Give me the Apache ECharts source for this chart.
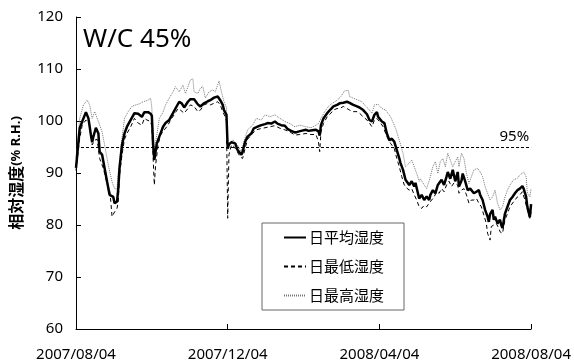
<!DOCTYPE html>
<html>
<head>
<meta charset="utf-8">
<script src="https://cdn.jsdelivr.net/npm/echarts@6/dist/echarts.min.js"></script>
<style>
  html, body { margin: 0; padding: 0; background: #fff; }
  #chart { width: 574px; height: 363px; }
</style>
</head>
<body>
<div id="chart"></div>
<script>
// x values are days elapsed since 2007/08/04
const dateTicks = ['2007/08/04', '2007/12/04', '2008/04/04', '2008/08/04'];
const dayStep = 122;
const thresholdLevel = 95;
const seriesNames = ['日平均湿度', '日最低湿度', '日最高湿度'];

// daily mean relative humidity [day, %RH]
const avgHumidity = [[0,91.0],[3,98.6],[5,99.9],[8,101.7],[10,100.5],[12,97.3],[13,95.9],[14,97.0],[16,98.7],[18,97.6],[19,94.1],[21,93.5],[23,90.9],[25,88.3],[27,85.8],[30,85.4],[31,84.2],[33,84.5],[34,87.0],[35,90.9],[37,95.4],[39,97.6],[41,98.9],[44,100.2],[47,101.5],[50,101.4],[53,100.8],[55,101.7],[58,101.7],[60,101.4],[61,101.0],[62,95.5],[63,92.5],[65,95.7],[67,97.0],[70,98.9],[72,99.6],[75,100.2],[78,101.5],[80,102.4],[83,103.7],[85,103.4],[87,102.6],[90,103.7],[92,104.2],[95,104.2],[98,103.2],[100,102.8],[103,103.4],[106,103.8],[108,104.0],[111,104.5],[114,104.7],[116,104.0],[118,103.1],[119,102.1],[121,101.2],[122,94.7],[123,95.5],[125,95.9],[128,95.7],[130,94.4],[133,93.5],[134,94.1],[136,96.0],[138,97.0],[141,97.6],[143,98.6],[146,98.9],[149,99.2],[152,99.4],[154,99.6],[157,99.5],[160,99.9],[162,99.5],[165,99.2],[168,99.1],[170,98.5],[173,98.1],[176,97.8],[178,97.9],[181,98.1],[185,98.3],[187,98.1],[190,98.2],[193,98.3],[195,98.0],[196,97.2],[197,99.2],[199,100.5],[202,101.5],[205,102.3],[207,102.8],[210,103.1],[212,103.4],[215,103.5],[218,103.7],[220,103.5],[223,103.1],[226,102.8],[228,102.6],[231,102.1],[234,101.3],[236,100.2],[238,99.9],[240,101.2],[242,101.7],[243,100.8],[246,99.9],[248,99.6],[250,97.6],[252,96.3],[254,96.6],[256,96.0],[258,94.4],[260,92.8],[261,91.9],[263,90.6],[265,88.7],[266,88.4],[268,87.7],[270,88.4],[272,87.4],[273,88.1],[275,86.1],[276,85.1],[278,85.8],[280,84.8],[282,85.5],[284,84.8],[285,85.8],[287,86.7],[289,86.1],[291,87.7],[292,87.4],[294,88.7],[296,87.7],[298,89.3],[299,90.2],[301,88.9],[303,90.6],[305,88.4],[307,90.2],[308,87.4],[310,88.5],[311,89.9],[313,88.4],[315,86.7],[317,87.0],[320,86.1],[322,86.4],[324,86.7],[325,85.8],[327,84.8],[329,82.9],[331,81.6],[332,80.6],[333,82.1],[335,82.9],[336,81.0],[337,81.6],[339,80.3],[341,81.0],[342,80.0],[343,79.4],[345,82.2],[347,83.5],[349,84.8],[351,85.4],[353,86.1],[355,86.7],[357,87.0],[359,87.5],[360,87.0],[362,85.4],[363,83.5],[365,81.5],[366,84.0]];

// daily minimum relative humidity [day, %RH]
const minHumidity = [[0,90.5],[3,96.7],[5,99.2],[8,100.2],[11,99.2],[13,95.4],[15,96.3],[17,96.5],[19,92.8],[22,90.9],[25,88.0],[27,86.7],[28,84.5],[29,81.6],[31,82.5],[33,83.2],[34,84.5],[35,89.6],[37,93.5],[39,96.5],[41,97.6],[44,98.9],[47,100.5],[50,99.6],[53,99.2],[55,100.5],[57,100.2],[60,99.9],[61,99.0],[62,93.0],[63,87.7],[64,91.5],[66,95.4],[68,97.3],[71,98.3],[74,99.2],[76,100.2],[79,101.2],[82,102.4],[84,102.1],[87,101.5],[90,102.4],[92,103.1],[95,102.8],[98,101.8],[100,102.1],[103,103.1],[106,103.4],[108,103.1],[111,103.4],[114,103.7],[116,103.1],[118,101.8],[120,100.8],[121,100.0],[122,81.3],[123,93.5],[124,93.8],[125,95.4],[127,95.1],[129,94.4],[132,93.1],[134,92.8],[136,94.7],[138,96.5],[142,97.6],[145,98.3],[148,98.5],[152,98.7],[156,98.9],[160,99.1],[164,98.6],[168,98.3],[172,97.9],[176,97.3],[180,97.4],[185,97.6],[189,97.4],[193,97.4],[195,96.0],[196,94.1],[197,97.9],[199,99.5],[202,100.8],[205,101.5],[207,102.1],[210,102.4],[212,102.4],[215,102.8],[218,102.4],[220,102.1],[223,101.8],[226,101.8],[228,101.5],[231,100.8],[234,100.2],[236,99.6],[238,98.9],[240,100.2],[242,100.5],[245,99.6],[247,98.9],[250,97.0],[253,95.7],[256,94.7],[258,92.8],[260,91.2],[262,89.3],[264,87.7],[266,87.1],[268,86.7],[270,87.0],[272,85.8],[274,84.8],[276,83.5],[278,83.2],[280,83.8],[282,83.5],[284,84.2],[286,84.8],[288,85.4],[290,86.4],[292,86.1],[294,87.0],[296,86.4],[298,87.7],[300,88.4],[302,87.4],[304,88.1],[307,87.7],[308,86.1],[310,86.7],[312,87.0],[314,85.8],[316,84.2],[318,84.8],[320,84.8],[322,85.1],[324,84.2],[326,83.5],[328,81.9],[330,80.3],[331,78.4],[333,77.1],[334,79.7],[336,80.0],[338,80.3],[340,79.4],[341,78.7],[343,78.4],[345,81.0],[347,82.2],[349,83.5],[352,84.5],[355,85.4],[357,85.8],[359,86.4],[361,84.8],[363,82.9],[365,81.3],[366,82.5]];

// daily maximum relative humidity [day, %RH]
const maxHumidity = [[0,93.0],[3,100.5],[6,103.1],[9,104.0],[11,103.1],[13,100.5],[15,101.8],[18,99.9],[21,97.9],[23,95.4],[26,91.5],[29,88.3],[31,87.0],[33,86.9],[34,90.2],[37,96.7],[39,100.5],[42,101.8],[45,102.8],[48,103.1],[51,103.3],[54,103.7],[58,104.0],[60,104.4],[61,102.5],[62,97.0],[63,94.7],[65,97.3],[67,100.5],[70,101.7],[72,103.1],[75,104.4],[78,105.6],[80,106.6],[83,105.6],[86,106.9],[88,105.3],[92,107.9],[94,108.1],[95,105.6],[98,105.3],[100,106.3],[102,106.6],[104,104.4],[107,105.6],[110,106.0],[112,105.6],[115,107.7],[117,105.6],[119,103.7],[121,102.6],[122,94.7],[124,95.7],[126,96.4],[129,95.7],[133,94.1],[135,96.0],[138,98.3],[142,99.2],[145,100.5],[149,100.2],[152,101.2],[156,100.8],[160,101.2],[164,100.5],[168,99.9],[172,99.5],[176,98.9],[180,99.2],[185,98.9],[189,98.7],[193,99.2],[195,99.5],[197,100.5],[200,101.8],[203,102.8],[206,103.4],[210,104.0],[213,104.7],[216,105.8],[219,105.9],[220,104.7],[223,104.4],[227,104.0],[230,103.7],[232,103.1],[235,102.4],[238,101.5],[240,103.1],[243,103.2],[246,102.4],[249,102.1],[253,100.8],[257,98.6],[260,96.3],[263,93.8],[265,91.2],[268,91.9],[270,92.5],[272,91.2],[274,89.9],[276,88.4],[277,88.9],[280,87.7],[282,87.0],[285,89.3],[287,91.2],[289,92.2],[291,89.9],[293,92.2],[295,92.8],[297,91.2],[299,93.8],[301,92.5],[303,91.2],[305,92.2],[307,93.1],[308,91.2],[310,93.8],[312,92.8],[314,89.9],[316,88.0],[318,89.3],[320,90.6],[323,90.9],[325,90.2],[327,89.3],[329,87.4],[331,86.1],[333,84.8],[335,85.4],[337,86.7],[339,84.2],[341,82.9],[343,83.5],[345,85.4],[347,86.7],[349,87.7],[352,88.7],[355,89.0],[357,89.6],[360,90.2],[362,89.3],[363,86.1],[365,85.4],[366,87.0]];

const yTicks = { min: 60, max: 120, step: 10 };

const FONT = '"Noto Sans", "Noto Sans CJK JP", sans-serif';
const CJK = '"Noto Sans CJK JP", "Noto Sans", sans-serif';

const chart = echarts.init(document.getElementById('chart'), null, { renderer: 'canvas' });

chart.setOption({
  animation: false,
  backgroundColor: '#fff',
  title: {
    text: 'W/C 45%',
    left: 78,
    top: 22,
    textStyle: { fontFamily: FONT, fontSize: 26, fontWeight: 'normal', color: '#000' }
  },
  legend: {
    orient: 'vertical',
    left: 262,
    top: 223,
    data: seriesNames,
    itemWidth: 22,
    itemHeight: 14,
    itemGap: 14,
    padding: [7, 20, 7, 21],
    borderColor: '#666',
    borderWidth: 1,
    itemStyle: { opacity: 0 },
    textStyle: { fontFamily: CJK, fontSize: 15, color: '#000', padding: [0, 0, 0, -2] }
  },
  grid: { left: 74, right: 40, top: 17, bottom: 34 },
  xAxis: {
    type: 'value',
    min: 0,
    max: dayStep * (dateTicks.length - 1),
    interval: dayStep,
    splitLine: { show: false },
    axisLine: { lineStyle: { color: '#000', width: 1 } },
    axisTick: { inside: true, length: 5, lineStyle: { color: '#000' } },
    axisLabel: {
      margin: 18,
      fontFamily: FONT,
      fontSize: 15,
      color: '#000',
      formatter: v => dateTicks[Math.round(v / dayStep)] || ''
    }
  },
  yAxis: {
    type: 'value',
    min: yTicks.min,
    max: yTicks.max,
    interval: yTicks.step,
    splitLine: { show: false },
    axisLine: { show: true, lineStyle: { color: '#000', width: 1 } },
    axisTick: { show: true, inside: true, length: 5, lineStyle: { color: '#000' } },
    axisLabel: { margin: 13, fontFamily: FONT, fontSize: 15, color: '#000' },
    name: '{a|相対湿度}{b|(% R.H.)}',
    nameLocation: 'middle',
    nameRotate: 90,
    nameGap: 52,
    nameTextStyle: {
      fontSize: 13,
      rich: {
        a: { fontFamily: CJK, fontSize: 16, fontWeight: 'bold', color: '#000' },
        b: { fontFamily: FONT, fontSize: 13, fontWeight: 'bold', color: '#000' }
      }
    }
  },
  series: [
    {
      name: seriesNames[1],
      type: 'line',
      data: minHumidity,
      symbol: 'none',
      z: 2,
      itemStyle: { color: '#000' },
      lineStyle: { color: '#000', width: 1, type: [4, 3] }
    },
    {
      name: seriesNames[2],
      type: 'line',
      data: maxHumidity,
      symbol: 'none',
      z: 2,
      itemStyle: { color: '#777' },
      lineStyle: { color: '#777', width: 1, type: [1, 1] }
    },
    {
      name: seriesNames[0],
      type: 'line',
      data: avgHumidity,
      symbol: 'none',
      z: 3,
      itemStyle: { color: '#000' },
      lineStyle: { color: '#000', width: 2.5 },
      markLine: {
        silent: true,
        symbol: 'none',
        data: [{ yAxis: thresholdLevel }],
        lineStyle: { color: '#000', width: 1, type: [3, 2] },
        label: {
          position: 'insideEndTop',
          formatter: thresholdLevel + '%',
          fontFamily: FONT,
          fontSize: 15,
          color: '#000',
          distance: [2, 3]
        }
      }
    }
  ]
});
</script>
</body>
</html>
